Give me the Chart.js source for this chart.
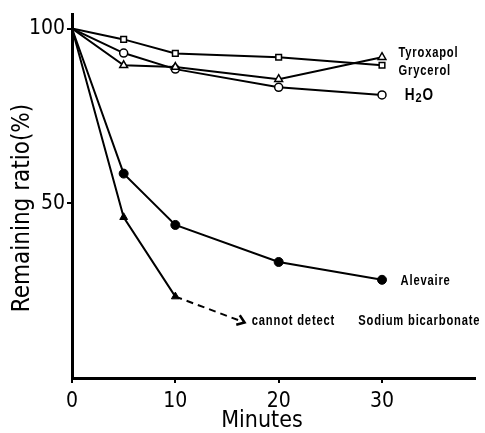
<!DOCTYPE html>
<html lang="en">
<head>
    <meta charset="UTF-8">
    <script src="https://cdn.jsdelivr.net/npm/chart.js"></script>
    <title>Remaining ratio</title>
    <style>
        html, body { margin: 0; padding: 0; background: #fff; }
        #box { width: 485px; height: 433px; }
    </style>
</head>
<body>
<div id="box">
    <canvas id="grafico" width="485" height="433"></canvas>
</div>

<script>
    // data (minutes vs remaining ratio %)
    var minutos = [0, 5, 10, 20, 30];
    var tyroxapol = [100, 89.5, 89, 85.5, 91.8];
    var grycerol = [100, 96.9, 92.9, 91.8, 89.5];
    var agua = [100, 93, 88.4, 83.2, 81];
    var alevaire = [100, 58.5, 43.8, 33.2, 28.1];
    var bicarbonato = [100, 46, 23.3];
    var bicarbonatoSeta = [[10, 23.3], [16.7, 15.9]]; // dashed "cannot detect" arrow

    var xTicks = [0, 10, 20, 30];
    var yTicks = [50, 100];

    // text labels next to the curves: [text, x, y]
    var rotulos = [
        ['Tyroxapol', 31.6, 92.9],
        ['Grycerol', 31.6, 87.8],
        ['Alevaire', 31.8, 27.6],
        ['cannot detect', 17.4, 16.2],
        ['Sodium bicarbonate', 27.7, 16.2]
    ];
    var rotuloAgua = ['H', '2', 'O', 32.2, 80.8]; // H2O with subscript
    var tituloX = 'Minutes';
    var tituloY = 'Remaining ratio(%)';

    function pares(xs, ys) {
        return ys.map(function (v, i) { return { x: xs[i], y: v }; });
    }

    function serie(nome, valores, estilo, raio, cheio) {
        var raios = valores.map(function (v, i) { return i === 0 ? 0 : raio; });
        return {
            label: nome,
            data: pares(minutos, valores),
            borderColor: '#000',
            borderWidth: 2,
            pointStyle: estilo,
            pointRadius: raios,
            pointBorderWidth: cheio ? 1 : 1.5,
            pointBorderColor: '#000',
            pointBackgroundColor: cheio ? '#000' : '#fff',
            fill: false,
            tension: 0
        };
    }

    var fonteNum = '"DejaVu Sans Condensed", sans-serif';

    // plugin que escreve os rótulos, títulos dos eixos e a ponta da seta
    var rotulosPlugin = {
        id: 'rotulos',
        afterDraw: function (chart) {
            var ctx = chart.ctx;
            var sx = chart.scales.x, sy = chart.scales.y;
            ctx.save();
            ctx.fillStyle = '#000';
            ctx.font = 'bold 14px "Liberation Sans", sans-serif';
            if ('letterSpacing' in ctx) ctx.letterSpacing = '1px';
            ctx.textAlign = 'left';
            ctx.textBaseline = 'middle';
            rotulos.forEach(function (r) {
                ctx.save();
                ctx.translate(sx.getPixelForValue(r[1]), sy.getPixelForValue(r[2]));
                ctx.scale(0.8, 1);
                ctx.fillText(r[0], 0, 0);
                ctx.restore();
            });

            // H2O
            ctx.save();
            ctx.translate(sx.getPixelForValue(rotuloAgua[3]), sy.getPixelForValue(rotuloAgua[4]));
            ctx.scale(0.85, 1);
            ctx.font = 'bold 16px "Liberation Sans", sans-serif';
            ctx.fillText(rotuloAgua[0], 0, 0);
            var w = ctx.measureText(rotuloAgua[0]).width;
            ctx.font = 'bold 13px "Liberation Sans", sans-serif';
            ctx.fillText(rotuloAgua[1], w, 3);
            var w2 = ctx.measureText(rotuloAgua[1]).width;
            ctx.font = 'bold 16px "Liberation Sans", sans-serif';
            ctx.fillText(rotuloAgua[2], w + w2, 0);
            ctx.restore();
            if ('letterSpacing' in ctx) ctx.letterSpacing = '0px';

            // axis titles
            ctx.textAlign = 'center';
            ctx.font = '23px ' + fonteNum;
            ctx.fillText(tituloX, 262, 421);
            ctx.save();
            ctx.translate(23, 208);
            ctx.rotate(-Math.PI / 2);
            ctx.font = '24px ' + fonteNum;
            ctx.fillText(tituloY, 0, 0);
            ctx.restore();

            // arrow head at the end of the dashed line
            var meta = chart.getDatasetMeta(5);
            var p0 = meta.data[0], p1 = meta.data[1];
            var ang = Math.atan2(p1.y - p0.y, p1.x - p0.x);
            ctx.translate(p1.x, p1.y);
            ctx.rotate(ang);
            ctx.beginPath();
            ctx.moveTo(-7, -5);
            ctx.lineTo(0, 0);
            ctx.lineTo(-7, 5);
            ctx.lineWidth = 2.5;
            ctx.strokeStyle = '#000';
            ctx.stroke();
            ctx.restore();
        }
    };

    var contexto = document.getElementById('grafico');
    new Chart(contexto, {
        type: 'line',
        data: {
            datasets: [
                serie('Tyroxapol', tyroxapol, 'triangle', 4.5, false),
                serie('Grycerol', grycerol, 'rect', 4, false),
                serie('H2O', agua, 'circle', 4, false),
                serie('Alevaire', alevaire, 'circle', 4.5, true),
                serie('Sodium bicarbonate', bicarbonato, 'triangle', 4.5, true),
                {
                    label: 'cannot detect',
                    data: bicarbonatoSeta.map(function (p) { return { x: p[0], y: p[1] }; }),
                    borderColor: '#000',
                    borderWidth: 2,
                    borderDash: [7, 5],
                    pointRadius: 0,
                    fill: false
                }
            ]
        },
        options: {
            responsive: false,
            animation: false,
            layout: { padding: { top: 13, right: 10, bottom: 0, left: 4 } },
            plugins: {
                legend: { display: false },
                tooltip: { enabled: false }
            },
            scales: {
                x: {
                    type: 'linear',
                    min: 0,
                    max: 39,
                    afterBuildTicks: function (s) { s.ticks = xTicks.map(function (v) { return { value: v }; }); },
                    afterFit: function (s) { s.height = 55; },
                    border: { display: true, width: 3, color: '#000' },
                    grid: { drawOnChartArea: false, drawTicks: true, tickLength: 5, lineWidth: 2, color: '#000' },
                    ticks: { color: '#000', font: { family: fonteNum, size: 21 }, padding: 6, maxRotation: 0 }
                },
                y: {
                    min: 0,
                    max: 104,
                    afterBuildTicks: function (s) { s.ticks = yTicks.map(function (v) { return { value: v }; }); },
                    afterFit: function (s) { s.width = 68; },
                    border: { display: true, width: 3, color: '#000' },
                    grid: { drawOnChartArea: false, drawTicks: true, tickLength: 5, lineWidth: 2, color: '#000' },
                    ticks: { color: '#000', font: { family: fonteNum, size: 21 }, padding: 2 }
                }
            }
        },
        plugins: [rotulosPlugin]
    });
</script>
</body>
</html>
